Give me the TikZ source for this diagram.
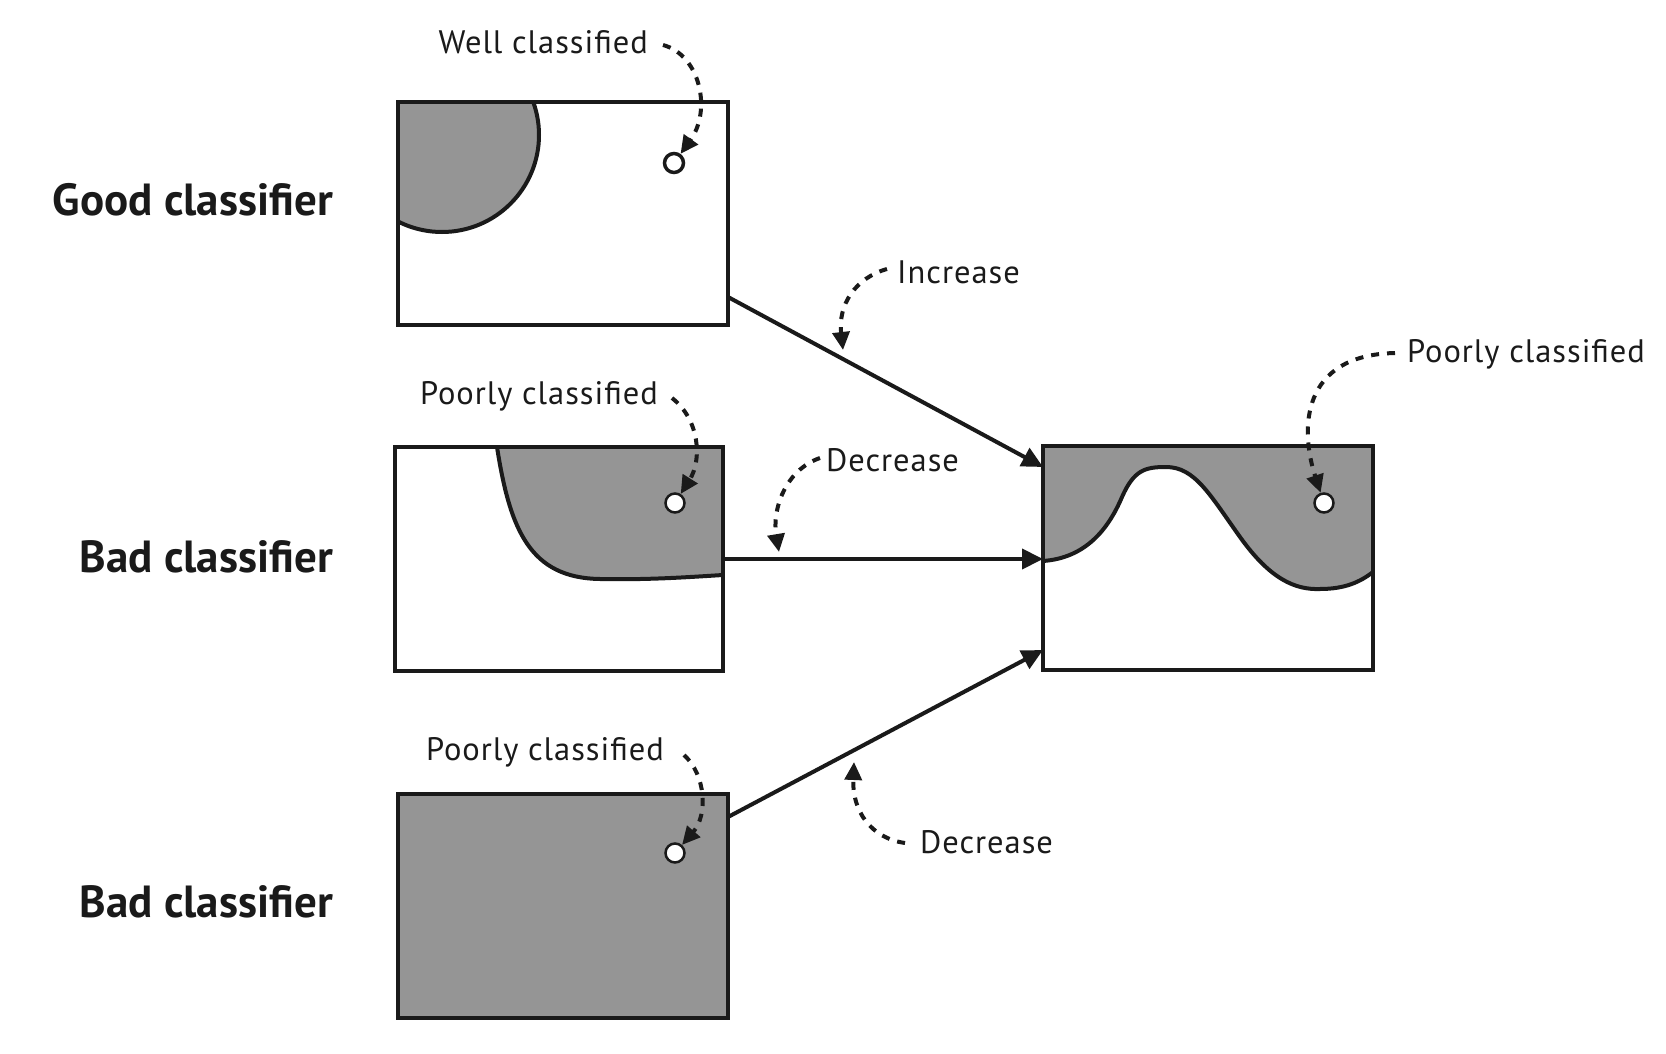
\documentclass[tikz,border=0pt]{standalone}
\usepackage{fontspec}
\setmainfont{PT Sans}
\newfontfamily\lblfont[LetterSpace=3]{PT Sans}
\usetikzlibrary{arrows.meta,calc,backgrounds}
\definecolor{ink}{HTML}{1A1A1A}
\definecolor{greyfill}{HTML}{959595}
\begin{document}
\begin{tikzpicture}[x=1pt,y=-1pt,
  boxframe/.style={draw=ink,line width=4pt,inner sep=0pt,outer sep=0pt},
  lbl/.style={font=\lblfont\fontsize{32.5}{38}\selectfont,text=ink,inner sep=0pt},
  ttl/.style={font=\fontsize{45}{52}\selectfont\bfseries,text=ink,inner sep=0pt},
  dot/.style={circle,draw=ink,fill=white,line width=2.5pt,minimum size=19pt,inner sep=0pt},
  arr/.style={draw=ink,line width=4pt,-{Triangle[length=21pt,width=20pt]}},
  darr/.style={draw=ink,line width=4pt,dash pattern=on 8pt off 8pt,-{Triangle[length=18pt,width=17pt]}},
  bound/.style={draw=ink,line width=4pt}]
\useasboundingbox (0,0) rectangle (1666,1054);

% boxes
\node[boxframe,minimum width=330pt,minimum height=223pt] (b1) at (563,213.5) {};
\node[boxframe,minimum width=328pt,minimum height=224pt] (b2) at (559,559) {};
\node[boxframe,fill=greyfill,minimum width=330pt,minimum height=224pt] (b3) at (563,906) {};
\node[boxframe,minimum width=330pt,minimum height=224pt] (b4) at (1208,558) {};

\begin{pgfonlayer}{background}
  \begin{scope}
    \clip (b1.north west) rectangle (b1.south east);
    \filldraw[fill=greyfill,bound] (442,135) circle[radius=97];
  \end{scope}
  \fill[fill=greyfill] (497,447) .. controls (510,530) and (530,578) .. (600,579)
     .. controls (650,580) and (690,577) .. (723,575) -- (b2.north east) -- cycle;
  \draw[bound] (497,447) .. controls (510,530) and (530,578) .. (600,579)
     .. controls (650,580) and (690,577) .. (723,575);
  \fill[fill=greyfill] (b4.north west) -- (1043,561)
     .. controls (1085,558) and (1108,530) .. (1122,497)
     .. controls (1134,470) and (1145,467) .. (1166,467)
     .. controls (1195,467) and (1210,495) .. (1240,537)
     .. controls (1270,579) and (1295,590) .. (1320,589)
     .. controls (1345,589) and (1360,582) .. (1373,572) -- (b4.north east) -- cycle;
  \draw[bound] (1043,561)
     .. controls (1085,558) and (1108,530) .. (1122,497)
     .. controls (1134,470) and (1145,467) .. (1166,467)
     .. controls (1195,467) and (1210,495) .. (1240,537)
     .. controls (1270,579) and (1295,590) .. (1320,589)
     .. controls (1345,589) and (1360,582) .. (1373,572);
\end{pgfonlayer}

% sample points
\node[dot,line width=3.5pt] (c1) at (674,163) {};
\node[dot] (c2) at (675,503) {};
\node[dot] (c3) at (675,853) {};
\node[dot] (c4) at (1324,503) {};

% titles
\node[ttl,anchor=base east] (t1) at (333,215) {Good classifier};
\node[ttl,anchor=base east] (t2) at (333,572) {Bad classifier};
\node[ttl,anchor=base east] (t3) at (333,917) {Bad classifier};

% labels
\node[lbl,anchor=base east] (wl) at (648,54) {Well classified};
\node[lbl,anchor=base east] (p2) at (658,404) {Poorly classified};
\node[lbl,anchor=base east] (p3) at (664,760) {Poorly classified};
\node[lbl,anchor=base west] (p4) at (1407,362) {Poorly classified};
\node[lbl,anchor=base west] (inc) at (897,283) {Increase};
\node[lbl,anchor=base west] (dec1) at (826,471) {Decrease};
\node[lbl,anchor=base west] (dec2) at (920,853) {Decrease};

% main connectors
\coordinate (b1o) at ([yshift=28pt]b1.south east);
\coordinate (b4i1) at ([yshift=-21pt]b4.north west);
\coordinate (b3o) at ([yshift=-23pt]b3.north east);
\coordinate (b4i3) at ([yshift=20pt]b4.south west);
\draw[arr] (b1o) -- (b4i1);
\draw[arr] (b2.east) -- (b2.east -| b4.west);
\draw[arr] (b3o) -- (b4i3);

% pointer targets on connectors
\coordinate (incT) at (843,350);
\coordinate (dec1T) at (779,552);
\coordinate (dec2T) at (854,762);

% dashed pointers
\draw[darr] ($(wl.base east)+(15,-9)$) .. controls (700,55) and (712,110) .. (c1);
\draw[darr] ($(p2.base east)+(14,-6)$) .. controls (700,420) and (702,460) .. (c2);
\draw[darr] ($(p3.base east)+(20,-5)$) .. controls (706,775) and (708,815) .. (c3);
\draw[darr] ($(p4.base west)+(-12,-9)$) .. controls (1300,355) and (1300,430) .. (c4);
\draw[darr] ($(inc.base west)+(-10,-14)$) .. controls (855,278) and (838,305) .. (incT);
\draw[darr] ($(dec1.base west)+(-6,-13)$) .. controls (785,470) and (772,510) .. (dec1T);
\draw[darr] ($(dec2.base west)+(-15,-10)$) .. controls (870,838) and (852,810) .. (dec2T);
\end{tikzpicture}
\end{document}
